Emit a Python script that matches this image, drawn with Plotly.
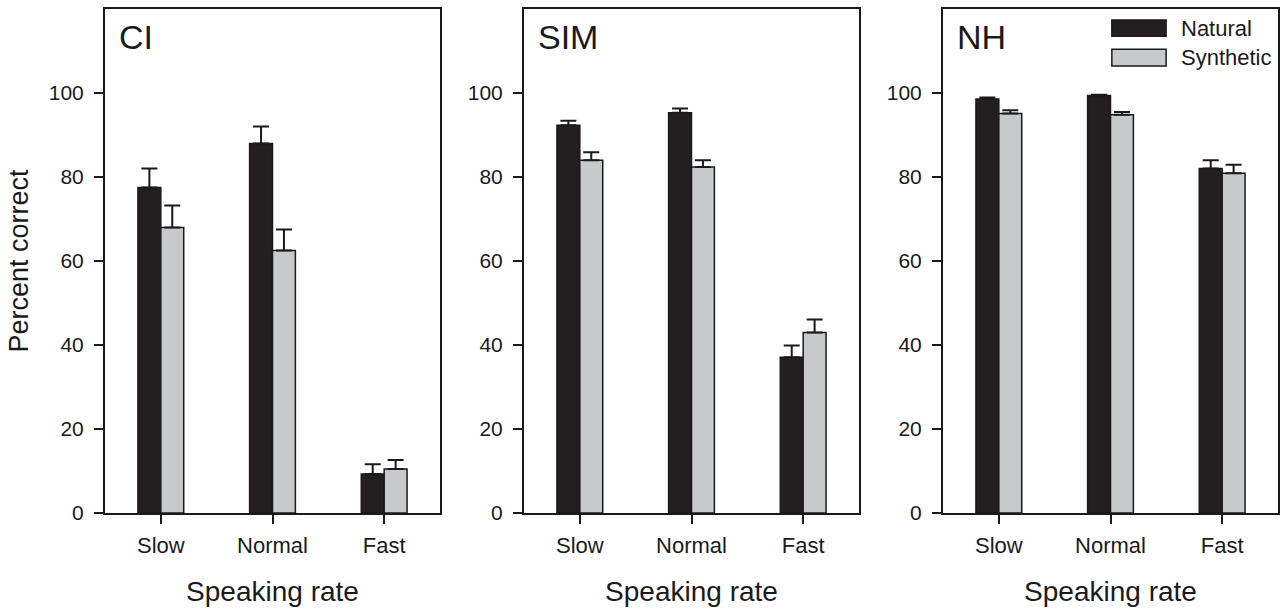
import plotly.graph_objects as go

categories = ["Slow", "Normal", "Fast"]

ci_natural = [77.5, 88.0, 9.3]
ci_natural_err = [4.5, 4.0, 2.3]
ci_synthetic = [68.0, 62.5, 10.5]
ci_synthetic_err = [5.2, 5.0, 2.1]

sim_natural = [92.3, 95.3, 37.1]
sim_natural_err = [1.1, 1.0, 2.8]
sim_synthetic = [84.0, 82.4, 43.0]
sim_synthetic_err = [1.9, 1.6, 3.1]

nh_natural = [98.6, 99.4, 82.0]
nh_natural_err = [0.3, 0.2, 2.0]
nh_synthetic = [95.1, 94.8, 80.9]
nh_synthetic_err = [0.8, 0.7, 2.0]

panel_labels = ["CI", "SIM", "NH"]
series_names = ["Natural", "Synthetic"]
x_title = "Speaking rate"
y_title = "Percent correct"
y_ticks = [0, 20, 40, 60, 80, 100]

FONT = "Liberation Sans, Arial, sans-serif"
DARK = "#231f20"
LIGHT = "#c8c9cb"

panels = [
    (ci_natural, ci_natural_err, ci_synthetic, ci_synthetic_err),
    (sim_natural, sim_natural_err, sim_synthetic, sim_synthetic_err),
    (nh_natural, nh_natural_err, nh_synthetic, nh_synthetic_err),
]

W, H = 1288, 612
x_domains = [(105 / W, 440 / W), (524 / W, 859 / W), (943 / W, 1278 / W)]
y_domain = (1 - 513 / H, 1 - 9 / H)

fig = go.Figure()
for i, (nat, nat_e, syn, syn_e) in enumerate(panels):
    ax = "" if i == 0 else str(i + 1)
    for name, vals, errs, color in [
        (series_names[0], nat, nat_e, DARK),
        (series_names[1], syn, syn_e, LIGHT),
    ]:
        fig.add_trace(go.Bar(
            x=categories, y=vals, name=name,
            marker=dict(color=color, line=dict(color="#1a1a1a", width=1.5)),
            error_y=dict(type="data", array=errs, arrayminus=[0] * len(errs),
                         symmetric=False, color="#1a1a1a", thickness=2, width=8),
            xaxis="x" + ax, yaxis="y" + ax, showlegend=False,
        ))

layout = dict(
    width=W, height=H, margin=dict(l=0, r=0, t=0, b=0, autoexpand=False),
    paper_bgcolor="white", plot_bgcolor="white",
    barmode="group", bargap=0.59, bargroupgap=0,
    font=dict(family=FONT, size=22, color="#1a1a1a"),
)
for i in range(3):
    ax = "" if i == 0 else str(i + 1)
    layout["xaxis" + ax] = dict(
        domain=list(x_domains[i]), anchor="y" + ax, automargin=False,
        type="category", categoryorder="array", categoryarray=categories,
        range=[-0.5, 2.5],
        showline=True, linecolor="#1a1a1a", linewidth=2, mirror=True,
        ticks="outside", ticklen=9, tickwidth=2, tickcolor="#1a1a1a",
        showgrid=False, zeroline=False, ticklabelstandoff=3,
        tickfont=dict(size=22, family=FONT),
        title=dict(text=x_title, font=dict(size=28, family=FONT), standoff=24),
    )
    layout["yaxis" + ax] = dict(
        domain=list(y_domain), anchor="x" + ax, automargin=False,
        range=[0, 120], tickvals=y_ticks,
        showline=True, linecolor="#1a1a1a", linewidth=2, mirror=True,
        ticks="outside", ticklen=9, tickwidth=2, tickcolor="#1a1a1a",
        showgrid=False, zeroline=False, ticklabelstandoff=6,
        tickfont=dict(size=21, family=FONT),
        title=dict(text=y_title if i == 0 else "", font=dict(size=27, family=FONT), standoff=12),
    )
fig.update_layout(**layout)

# panel labels
for i, lab in enumerate(panel_labels):
    ax = "" if i == 0 else str(i + 1)
    fig.add_annotation(text=lab, xref="x" + ax + " domain", yref="y" + ax + " domain",
                       x=0.035, y=0.945, xanchor="left", yanchor="middle",
                       showarrow=False, font=dict(size=34, family=FONT, color="#1a1a1a"))

# legend drawn in the third panel
legend_rows = [(0.978, 0.946, DARK), (0.920, 0.887, LIGHT)]
for (y1, y0, color), name in zip(legend_rows, series_names):
    fig.add_shape(type="rect", xref="x3 domain", yref="y3 domain",
                  x0=0.504, x1=0.666, y0=y0, y1=y1,
                  fillcolor=color, line=dict(color="#1a1a1a", width=1.5))
    fig.add_annotation(text=name, xref="x3 domain", yref="y3 domain",
                       x=0.704, y=(y0 + y1) / 2, xanchor="left", yanchor="middle",
                       showarrow=False, font=dict(size=22, family=FONT, color="#1a1a1a"))

fig.write_html("out.html")
